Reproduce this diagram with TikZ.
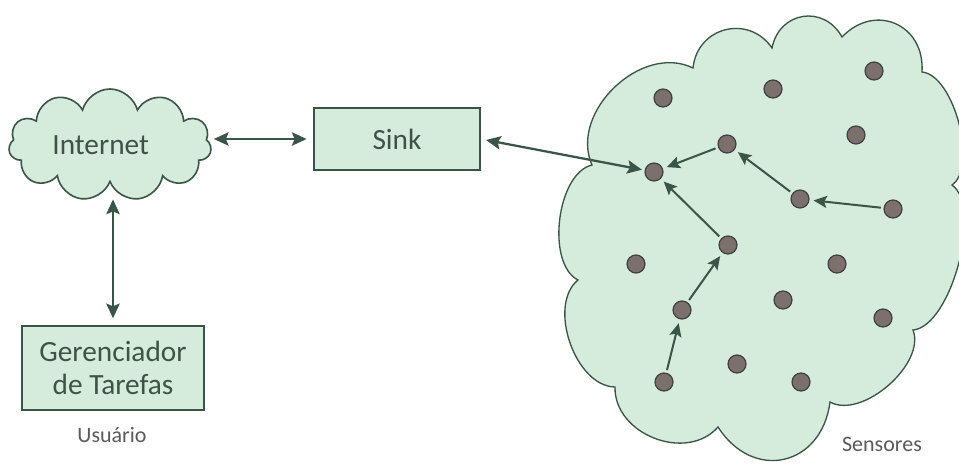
\documentclass[tikz,border=0pt]{standalone}
\usepackage{fontspec}
\setmainfont{Carlito}
\usetikzlibrary{shapes.symbols,arrows.meta}

\definecolor{leaf}{HTML}{D5EBDC}
\definecolor{edge}{HTML}{3A5547}
\definecolor{ink}{HTML}{3F5247}
\definecolor{mote}{HTML}{7B706B}

\begin{document}
\begin{tikzpicture}[
        x=0.75pt, y=-0.75pt,
        box/.style={draw=edge, fill=leaf, line width=1.6pt, text=ink, font=\fontsize{22}{25}\selectfont, align=center},
        puff/.style={cloud, cloud ignores aspect, draw=edge, fill=leaf, line width=1.2pt, text=ink, font=\fontsize{22}{25}\selectfont},
        lobe/.style={bend left=70, looseness=#1},
        mote/.style={circle, draw=black!75, fill=mote, line width=0.9pt, minimum size=13.5pt, inner sep=0pt},
        link/.style={{Stealth[length=11pt,width=10pt,inset=2pt]}-{Stealth[length=11pt,width=10pt,inset=2pt]}, draw=edge, line width=1.7pt},
        hop/.style={-{Stealth[length=10pt,width=9pt,inset=2pt]}, draw=edge, line width=1.5pt, shorten >=3pt, shorten <=2pt},
        note/.style={text=black!65, font=\fontsize{16.5}{19}\selectfont}
    ]
    \useasboundingbox (0,0) rectangle (959,464);

    % sensor field, one lobe per segment
    \draw[draw=edge, fill=leaf, line width=1pt]
        (578,280) to[lobe=0.8] (592,165)
                  to[lobe=1.05] (693,68)
                  to[lobe=1.3] (772,48)
                  to[lobe=1.35] (842,37)
                  to[lobe=1.4] (922,72)
                  to[lobe=0.7] (952,185)
                  to[lobe=0.65] (913,330)
                  to[lobe=0.85] (830,402)
                  to[lobe=1.45] (718,427)
                  to[lobe=1.1] (615,387)
                  to[lobe=0.9] cycle;

    % sensor motes
    \node[mote] (s1) at (663,98) {};
    \node[mote] (s2) at (773,89) {};
    \node[mote] (s3) at (874,71) {};
    \node[mote] (s4) at (856,135) {};
    \node[mote] (s5) at (727,144) {};
    \node[mote] (s6) at (654,172) {};
    \node[mote] (s7) at (800,199) {};
    \node[mote] (s8) at (893,209) {};
    \node[mote] (s9) at (728,245) {};
    \node[mote] (s10) at (636,264) {};
    \node[mote] (s11) at (837,264) {};
    \node[mote] (s12) at (783,300) {};
    \node[mote] (s13) at (682,310) {};
    \node[mote] (s14) at (883,318) {};
    \node[mote] (s15) at (737,364) {};
    \node[mote] (s16) at (664,382) {};
    \node[mote] (s17) at (801,382) {};

    % routes towards the gateway mote
    \draw[hop] (s5) -- (s6);
    \draw[hop] (s7) -- (s5);
    \draw[hop] (s8) -- (s7);
    \draw[hop] (s9) -- (s6);
    \draw[hop] (s13) -- (s9);
    \draw[hop] (s16) -- (s13);

    % user side
    \node[puff, cloud puffs=11, minimum width=152pt, minimum height=84pt] (inet) at (110,145) {Internet\hspace*{14pt}};
    \node[box, minimum width=124pt, minimum height=47pt] (sink) at (397,139) {Sink};
    \node[box, minimum width=137pt, minimum height=63pt, inner sep=2pt] (task) at (113,368) {Gerenciador\\de Tarefas};
    \node[note] (user) at (112,435) {Usuário};
    \node[note] (sens) at (882,444) {Sensores};

    \draw[link, shorten <=2pt, shorten >=5pt] (inet.east |- sink.west) -- (sink.west);
    \draw[link, shorten <=12pt, shorten >=5pt] (task.north |- inet.south) -- (task.north);
    \draw[link, shorten <=4pt, shorten >=2pt] (sink.east) -- (s6);
\end{tikzpicture}
\end{document}
